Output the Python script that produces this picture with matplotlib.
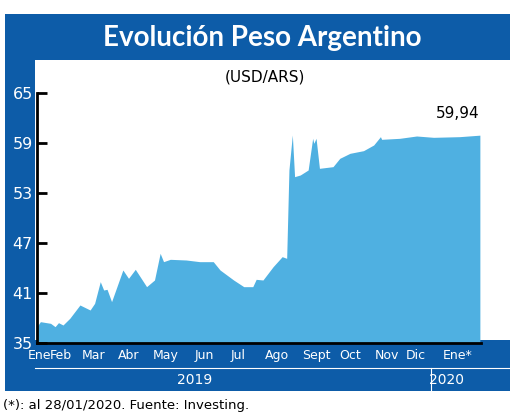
import matplotlib
matplotlib.use("Agg")
from matplotlib import pyplot as plt
from matplotlib.patches import Rectangle
import numpy as np

# days since 1 Jan 2019, USD/ARS
days = [0, 3, 12, 16, 19, 23, 29, 38, 47, 51, 56, 59, 62, 66, 76, 81, 87, 97, 104, 109,
        112, 118, 132, 144, 156, 162, 174, 183, 191, 194, 200, 209, 217, 221, 223, 226,
        228, 233, 240, 244, 245, 247, 250, 262, 268, 277, 289, 298, 304, 305, 321, 336,
        351, 374, 392]
values = [36.96, 37.56, 37.36, 36.96, 37.44, 37.16, 37.96, 39.56, 38.96, 39.76, 42.36,
          41.36, 41.44, 39.96, 43.76, 42.76, 43.84, 41.76, 42.56, 45.76, 44.76, 45.04,
          44.96, 44.76, 44.76, 43.76, 42.56, 41.76, 41.76, 42.64, 42.56, 44.16, 45.36,
          45.16, 55.76, 59.96, 54.96, 55.16, 55.76, 59.56, 58.96, 59.56, 55.96, 56.16,
          57.16, 57.76, 58.08, 58.76, 59.76, 59.44, 59.56, 59.84, 59.68, 59.76, 59.94]
month_labels = ["Ene", "Feb", "Mar", "Abr", "May", "Jun", "Jul", "Ago", "Sept", "Oct",
                "Nov", "Dic", "Ene*"]
month_pos = [2, 21, 50, 81, 114, 148, 178, 212, 247, 277, 310, 335, 372]
yticks = [35, 41, 47, 53, 59, 65]
last_label = "59,94"

BLUE = "#0d5ca8"
FILL = "#4fb0e1"
W, H = 520, 418

fig = plt.figure(figsize=(W / 100, H / 100), dpi=100)


def box(x0, y0, x1, y1, color):
    # pixel coords, y from top
    fig.add_artist(Rectangle((x0 / W, 1 - y1 / H), (x1 - x0) / W, (y1 - y0) / H,
                             transform=fig.transFigure, color=color, lw=0, zorder=0))


box(5, 14, 510, 60, BLUE)
box(5, 60, 35, 391, BLUE)
box(5, 340, 510, 391, BLUE)

fig.text(262 / W, 1 - 38 / H, "Evolución Peso Argentino", color="white", fontsize=20,
         fontweight="bold", family="Lato", ha="center", va="center")
fig.text(265 / W, 1 - 77 / H, "(USD/ARS)", fontsize=11, ha="center", va="center")
fig.text(3 / W, 1 - 406 / H, "(*): al 28/01/2020. Fuente: Investing.", fontsize=9.5,
         ha="left", va="center")

ax = fig.add_axes([37 / W, (H - 343) / H, 444 / W, 250 / H])
ax.patch.set_alpha(0)
ax.fill_between(days, values, 35, color=FILL, lw=0)
ax.set_xlim(0, 393)
ax.set_ylim(35, 65)
ax.set_yticks(yticks)
ax.tick_params(axis="y", colors="black", labelcolor="white", labelsize=11.5, length=7,
               width=2, direction="in", pad=3)
ax.set_xticks(month_pos)
ax.set_xticklabels(month_labels)
ax.tick_params(axis="x", length=0, labelcolor="white", labelsize=9, pad=4)
for s in ["top", "right"]:
    ax.spines[s].set_visible(False)
ax.spines["left"].set_linewidth(2)
ax.spines["bottom"].set_linewidth(2)
ax.text(392, 62.5, last_label, ha="right", va="center", fontsize=11)

# year row
fig.add_artist(plt.Line2D([35 / W, 510 / W], [1 - 368 / H] * 2, color="white", lw=0.8))
fig.add_artist(plt.Line2D([431 / W] * 2, [1 - 368 / H, 1 - 391 / H], color="white", lw=0.8))
fig.text(195 / W, 1 - 380 / H, "2019", color="white", fontsize=10, ha="center", va="center")
fig.text(447 / W, 1 - 380 / H, "2020", color="white", fontsize=10, ha="center", va="center")

fig.savefig("out.png", dpi=100)
